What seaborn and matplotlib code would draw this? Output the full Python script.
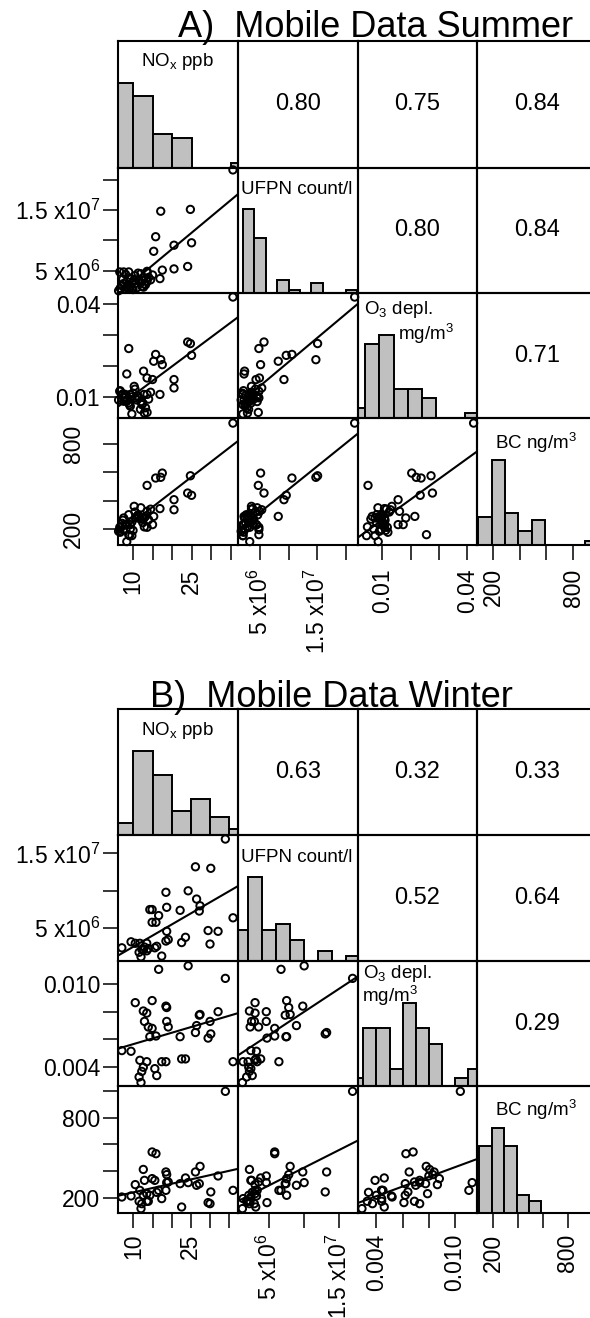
import numpy as np
import matplotlib
matplotlib.use("Agg")
import matplotlib.pyplot as plt
import seaborn as sns

sns.set_theme(style="white")
plt.rcParams["font.family"] = ["Liberation Sans", "DejaVu Sans"]
plt.rcParams["mathtext.fontset"] = "custom"
plt.rcParams["mathtext.rm"] = "Liberation Sans"
plt.rcParams["mathtext.it"] = "Liberation Sans:italic"
plt.rcParams["mathtext.default"] = "regular"
plt.rcParams["text.color"] = "black"
plt.rcParams["xtick.color"] = "black"
plt.rcParams["ytick.color"] = "black"

# ---------------- summer data (one entry per mobile measurement) ----------------
summer_nox = [35.6, 24.7, 24.0, 25.0, 20.5, 20.5, 17.1, 17.5, 15.8, 15.3,
              16.9, 15.0, 13.6, 8.9, 8.4, 12.7, 13.6, 6.6, 7.6, 9.3,
              10.3, 11.5, 12.8, 7.6, 8.4, 10.6, 6.7, 8.0, 9.1, 12.3,
              13.2, 13.6, 14.5, 6.3, 9.7, 8.9, 9.7, 11.0, 11.9, 7.2,
              10.5, 12.0, 12.9, 9.3, 7.4, 11.3, 14.0, 8.1, 10.0, 12.5]
summer_ufpn = [21.6e6, 15.1e6, 5.7e6, 9.6e6, 9.2e6, 5.3e6, 14.8e6, 5.1e6, 10.6e6, 8.2e6,
               3.7e6, 4.3e6, 4.9e6, 4.8e6, 2.2e6, 2.3e6, 4.7e6, 4.8e6, 4.8e6, 3.8e6,
               3.5e6, 3.5e6, 3.8e6, 2.9e6, 3.2e6, 2.9e6, 2.1e6, 2.0e6, 2.0e6, 2.4e6,
               2.7e6, 3.2e6, 3.5e6, 1.7e6, 2.0e6, 2.6e6, 3.0e6, 2.2e6, 3.0e6, 2.5e6,
               4.2e6, 4.5e6, 2.8e6, 2.4e6, 3.6e6, 4.6e6, 3.9e6, 4.4e6, 1.9e6, 3.4e6]
summer_o3 = [0.0422, 0.0272, 0.0277, 0.0234, 0.0156, 0.0129, 0.0220, 0.0204, 0.0237, 0.0215,
             0.0108, 0.0156, 0.0161, 0.0256, 0.0174, 0.0183, 0.0050, 0.0118, 0.0097, 0.0108,
             0.0134, 0.0097, 0.0108, 0.0086, 0.0086, 0.0097, 0.0120, 0.0108, 0.0075, 0.0075,
             0.0065, 0.0108, 0.0115, 0.0090, 0.0045, 0.0081, 0.0100, 0.0090, 0.0060, 0.0105,
             0.0125, 0.0085, 0.0048, 0.0070, 0.0110, 0.0102, 0.0093, 0.0099, 0.0112, 0.0080]
summer_bc = [948, 576, 454, 438, 407, 336, 565, 595, 560, 289,
             344, 231, 325, 160, 231, 278, 508, 212, 196, 231,
             360, 289, 278, 278, 111, 278, 177, 231, 153, 278,
             289, 212, 340, 184, 153, 301, 250, 289, 270, 240,
             320, 350, 215, 200, 262, 300, 265, 230, 190, 245]

# ---------------- winter data ----------------
winter_nox = [34.0, 36.0, 26.2, 30.2, 16.6, 24.3, 14.9, 15.9, 12.6, 18.5,
              18.7, 26.5, 27.4, 27.2, 14.3, 14.9, 22.2, 18.7, 19.1, 23.6,
              22.6, 29.5, 32.1, 30.0, 7.0, 9.4, 10.5, 11.7, 12.9, 13.5,
              12.2, 12.6, 13.9, 15.6, 11.5, 12.0, 17.4, 18.5, 13.5, 16.1]
winter_ufpn = [16.9e6, 6.4e6, 13.2e6, 13.0e6, 6.7e6, 10.0e6, 5.8e6, 5.8e6, 2.2e6, 9.8e6,
               7.8e6, 8.9e6, 8.0e6, 7.3e6, 7.5e6, 7.5e6, 7.4e6, 4.6e6, 3.5e6, 3.8e6,
               3.1e6, 4.7e6, 4.6e6, 2.9e6, 2.4e6, 3.2e6, 3.0e6, 3.0e6, 2.5e6, 3.0e6,
               2.2e6, 2.1e6, 2.3e6, 2.4e6, 1.8e6, 1.2e6, 1.3e6, 3.3e6, 2.0e6, 2.6e6]
winter_o3 = [0.0104, 0.0044, 0.0065, 0.0064, 0.01105, 0.0113, 0.0068, 0.00625, 0.00805, 0.0084,
             0.0083, 0.0070, 0.0078, 0.00775, 0.0062, 0.0088, 0.0062, 0.0073, 0.0069, 0.0046,
             0.0046, 0.0061, 0.0080, 0.0073, 0.0052, 0.00515, 0.00865, 0.0045, 0.0073, 0.0079,
             0.0037, 0.0040, 0.0069, 0.0039, 0.0033, 0.0029, 0.0044, 0.0044, 0.0044, 0.0034]
winter_bc = [998, 255, 393, 243, 255, 313, 543, 530, 412, 393,
             373, 293, 435, 305, 218, 343, 305, 313, 318, 348,
             130, 163, 363, 155, 205, 213, 298, 255, 330, 230,
             155, 218, 173, 330, 173, 118, 193, 255, 173, 240]

# ---------------- histogram bins and counts read from the diagonal ----------------
summer_nox_edges = [5, 10, 15, 20, 25, 30, 35, 40]
summer_nox_counts = [20, 17, 8, 7, 0, 0, 1]
summer_ufpn_edges = [2e6, 4e6, 6e6, 8e6, 10e6, 12e6, 14e6, 16e6, 18e6, 20e6, 22e6]
summer_ufpn_counts = [26, 17, 0, 4, 1, 0, 3, 0, 0, 1]
summer_o3_edges = [-0.001, 0.004, 0.009, 0.014, 0.019, 0.024, 0.029, 0.034, 0.039, 0.044]
summer_o3_counts = [2, 15, 17, 6, 6, 4, 0, 0, 1]
summer_bc_edges = [90, 190, 290, 390, 490, 590, 690, 790, 890, 990]
summer_bc_counts = [8, 24, 9, 4, 7, 0, 0, 0, 1]

winter_nox_edges = [5, 10, 15, 20, 25, 30, 35, 40]
winter_nox_counts = [2, 14, 10, 4, 6, 3, 1]
winter_ufpn_edges = [0, 2e6, 4e6, 6e6, 8e6, 10e6, 12e6, 14e6, 16e6, 18e6]
winter_ufpn_counts = [6, 16, 6, 7, 4, 0, 2, 0, 1]
winter_o3_edges = [0.002, 0.003, 0.004, 0.005, 0.006, 0.007, 0.008, 0.009, 0.010, 0.011, 0.012]
winter_o3_counts = [1, 7, 7, 2, 10, 7, 5, 0, 1, 2]
winter_bc_edges = [90, 190, 290, 390, 490, 590]
winter_bc_counts = [11, 14, 11, 3, 2]

# correlation coefficients shown in the upper triangle: (0,1),(0,2),(0,3),(1,2),(1,3),(2,3)
summer_r = ["0.80", "0.75", "0.84", "0.80", "0.84", "0.71"]
winter_r = ["0.63", "0.32", "0.33", "0.52", "0.64", "0.29"]

# ---------------- axis settings ----------------
nox_ticks = [10, 15, 20, 25, 30, 35]
nox_labels = ["10", "", "", "25", "", ""]

summer_axes = dict(
    xlim=[(6.15, 36.9), (1.14e6, 2.21e7), (0.0013, 0.0434), (80, 978)],
    ylim=[None, (1.33e6, 2.2e7), (0.0032, 0.0435), (87, 984)],
    ticks=[nox_ticks, [5e6, 1e7, 1.5e7, 2e7], [0.01, 0.02, 0.03, 0.04], [200, 400, 600, 800]],
    labels=[nox_labels, [r"5 x10$^6$", "", r"1.5 x10$^7$", ""], ["0.01", "", "", "0.04"],
            ["200", "", "", "800"]],
)
winter_axes = dict(
    xlim=[(6.0, 37.3), (0.57e6, 1.76e7), (0.00256, 0.01167), (72, 1036)],
    ylim=[None, (0.64e6, 1.744e7), (0.00265, 0.01165), (85, 1038)],
    ticks=[nox_ticks, [5e6, 1e7, 1.5e7], [0.004, 0.006, 0.008, 0.010], [200, 400, 600, 800, 1000]],
    labels=[nox_labels, [r"5 x10$^6$", "", r"1.5 x10$^7$"], ["0.004", "", "", "0.010"],
            ["200", "", "", "800", ""]],
)

W, H = 590, 1318
fig = plt.figure(figsize=(W / 100, H / 100), dpi=100)


def cell(x0, x1, y0, y1):
    return fig.add_axes([x0 / W, 1 - y1 / H, (x1 - x0) / W, (y1 - y0) / H])


col_px = [118, 238, 357.5, 477, 597]
tick_kw = dict(direction="out", length=10.8, width=1.1, labelsize=16.5,
               color="black", labelcolor="black")


def draw_matrix(data, hists, corr, axes_cfg, row_px, label_pos, bottom_pad, bc_rot):
    k = 0
    for i in range(4):
        for j in range(4):
            ax = cell(col_px[j], col_px[j + 1], row_px[i], row_px[i + 1])
            if i == j:
                edges, counts = hists[i]
                centers = [(a + b) / 2 for a, b in zip(edges[:-1], edges[1:])]
                sns.histplot(x=centers, weights=counts, bins=edges, ax=ax,
                             color="#c0c0c0", edgecolor="black", linewidth=1.4, alpha=1)
                ax.set_xlim(axes_cfg["xlim"][j])
                ax.set_ylim(0, max(counts) * 1.5)
            elif i > j:
                ax.set_xlim(axes_cfg["xlim"][j])
                ax.set_ylim(axes_cfg["ylim"][i])
                sns.regplot(x=np.array(data[j]), y=np.array(data[i]), ax=ax, ci=None,
                            truncate=False, color="black",
                            scatter_kws=dict(s=28, facecolors="none", edgecolors="black",
                                             linewidths=1.4, alpha=1, clip_on=False, zorder=3),
                            line_kws=dict(lw=1.5))
                ax.set_xlim(axes_cfg["xlim"][j])
                ax.set_ylim(axes_cfg["ylim"][i])
            else:
                ax.set_xlim(0, 1)
                ax.set_ylim(0, 1)
                ax.text(0.5, 0.5, corr[k], ha="center", va="center", fontsize=17,
                        color="black", transform=ax.transAxes)
                k += 1
            ax.set_xlabel("")
            ax.set_ylabel("")
            ax.set_facecolor("none")
            for sp in ax.spines.values():
                sp.set_visible(True)
                sp.set_color("black")
                sp.set_linewidth(1.5)
            ax.tick_params(**tick_kw)
            if j == 0 and i > 0:
                ax.set_yticks(axes_cfg["ticks"][i])
                if i == 3 and bc_rot:
                    ax.set_yticklabels(axes_cfg["labels"][i], rotation=90, va="center")
                    ax.tick_params(axis="y", left=True, pad=13)
                else:
                    ax.set_yticklabels(axes_cfg["labels"][i])
                    ax.tick_params(axis="y", left=True, pad=2)
            else:
                ax.set_yticks([])
            if i == 3:
                ax.set_xticks(axes_cfg["ticks"][j])
                ax.set_xticklabels(axes_cfg["labels"][j], rotation=90)
                ax.tick_params(axis="x", bottom=True, pad=bottom_pad)
            else:
                ax.set_xticks([])
            ax.set_zorder(1 if i == j else 2)

    # diagonal variable names
    for text, x, y, ha in label_pos:
        fig.text(x / W, 1 - y / H, text, fontsize=13.5, ha=ha, va="center", color="black")


summer_data = [summer_nox, summer_ufpn, summer_o3, summer_bc]
summer_hists = [(summer_nox_edges, summer_nox_counts), (summer_ufpn_edges, summer_ufpn_counts),
                (summer_o3_edges, summer_o3_counts), (summer_bc_edges, summer_bc_counts)]
winter_data = [winter_nox, winter_ufpn, winter_o3, winter_bc]
winter_hists = [(winter_nox_edges, winter_nox_counts), (winter_ufpn_edges, winter_ufpn_counts),
                (winter_o3_edges, winter_o3_counts), (winter_bc_edges, winter_bc_counts)]

draw_matrix(summer_data, summer_hists, summer_r, summer_axes, [41, 167.5, 293, 418, 545],
            [(r"NO$_x$ ppb", 178, 62, "center"), ("UFPN count/l", 241, 190, "left"),
             (r"O$_3$ depl.", 364, 310, "left"), (r"mg/m$^3$", 398, 334, "left"),
             (r"BC ng/m$^3$", 495, 443, "left")],
            bottom_pad=6, bc_rot=True)
draw_matrix(winter_data, winter_hists, winter_r, winter_axes, [709, 835, 961, 1086, 1213],
            [(r"NO$_x$ ppb", 178, 730, "center"), ("UFPN count/l", 241, 857, "left"),
             (r"O$_3$ depl.", 363, 973, "left"), (r"mg/m$^3$", 362, 996, "left"),
             (r"BC ng/m$^3$", 495, 1110, "left")],
            bottom_pad=4, bc_rot=False)

fig.text(178 / W, 1 - 37 / H, "A)  Mobile Data Summer", fontsize=26, ha="left",
         va="baseline", color="black")
fig.text(150 / W, 1 - 707 / H, "B)  Mobile Data Winter", fontsize=26, ha="left",
         va="baseline", color="black")

fig.savefig("out.png", dpi=100, facecolor="white")
